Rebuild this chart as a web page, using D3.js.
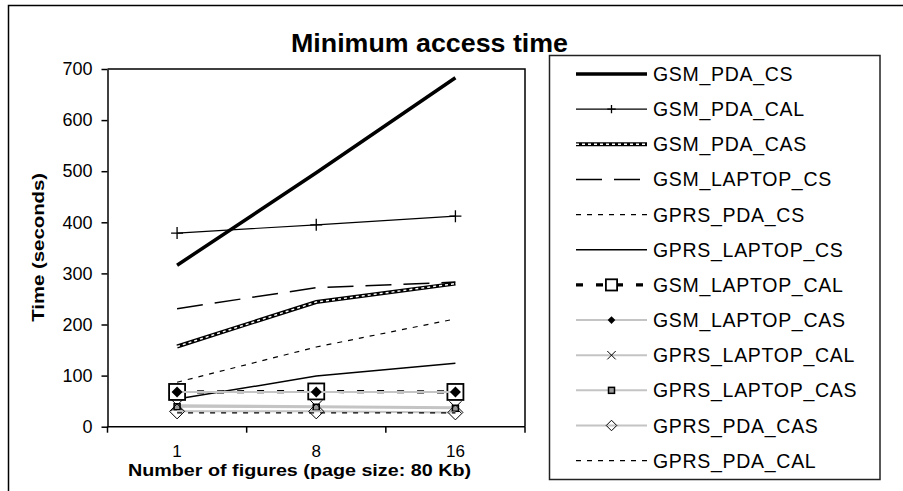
<!DOCTYPE html>
<html>
<head>
<meta charset="utf-8">
<script src="https://cdn.jsdelivr.net/npm/d3@7/dist/d3.min.js"></script>
<style>
  html, body { margin: 0; padding: 0; background: #fff; }
  svg { display: block; font-family: "Liberation Sans", Arial, sans-serif; }
</style>
</head>
<body>
<svg id="chart" width="903" height="491"></svg>
<script>
// Number of figures per page (x categories)
const categories = ["1", "8", "16"];
const yTicks = [0, 100, 200, 300, 400, 500, 600, 700];

// Minimum access time in seconds, one array per configuration
const gsmPdaCs       = [316, 497, 683];
const gsmPdaCal      = [379, 395, 412];
const gsmPdaCas      = [157, 244, 280];
const gsmLaptopCs    = [231, 272, 283];
const gprsPdaCs      = [87, 156, 211];
const gprsLaptopCs   = [54, 99, 124];
const gsmLaptopCal   = [68, 69, 68];
const gsmLaptopCas   = [68, 68, 68];
const gprsLaptopCal  = [42, 40, 38];
const gprsLaptopCas  = [39, 38, 36];
const gprsPdaCas     = [30, 30, 28];
const gprsPdaCal     = [27, 27, 27];

const series = [
  { name: "GSM_PDA_CS",      values: gsmPdaCs },
  { name: "GSM_PDA_CAL",     values: gsmPdaCal },
  { name: "GSM_PDA_CAS",     values: gsmPdaCas },
  { name: "GSM_LAPTOP_CS",   values: gsmLaptopCs },
  { name: "GPRS_PDA_CS",     values: gprsPdaCs },
  { name: "GPRS_LAPTOP_CS",  values: gprsLaptopCs },
  { name: "GSM_LAPTOP_CAL",  values: gsmLaptopCal },
  { name: "GSM_LAPTOP_CAS",  values: gsmLaptopCas },
  { name: "GPRS_LAPTOP_CAL", values: gprsLaptopCal },
  { name: "GPRS_LAPTOP_CAS", values: gprsLaptopCas },
  { name: "GPRS_PDA_CAS",    values: gprsPdaCas },
  { name: "GPRS_PDA_CAL",    values: gprsPdaCal }
];

// Line and marker styles for each series
const styles = {
  GSM_PDA_CS:      { stroke: "#000", width: 3.5 },
  GSM_PDA_CAL:     { stroke: "#000", width: 1.2, marker: "plus" },
  GSM_PDA_CAS:     { stroke: "#000", width: 4, chain: true },
  GSM_LAPTOP_CS:   { stroke: "#000", width: 1.5, dash: "26,12" },
  GPRS_PDA_CS:     { stroke: "#000", width: 1.2, dash: "5,6" },
  GPRS_LAPTOP_CS:  { stroke: "#000", width: 1.5 },
  GSM_LAPTOP_CAL:  { stroke: "#000", width: 3.2, dash: "7,13", marker: "square" },
  GSM_LAPTOP_CAS:  { stroke: "#c4c4c4", width: 2, marker: "diamondFilled" },
  GPRS_LAPTOP_CAL: { stroke: "#c4c4c4", width: 2, marker: "cross" },
  GPRS_LAPTOP_CAS: { stroke: "#c4c4c4", width: 2, marker: "smallSquare" },
  GPRS_PDA_CAS:    { stroke: "#c4c4c4", width: 2, marker: "diamondOpen" },
  GPRS_PDA_CAL:    { stroke: "#000", width: 1.2, dash: "5,6" }
};

const svg = d3.select("#chart");

// Outer frame
svg.append("path")
  .attr("d", "M8.5,1000 V5.5 H1000")
  .attr("fill", "none").attr("stroke", "#000").attr("stroke-width", 1.5);

const plot = { left: 107.5, right: 525, top: 69, bottom: 426.7 };

const x = d3.scaleBand().domain(categories).range([plot.left, plot.right]).padding(0);
const y = d3.scaleLinear().domain([0, 700]).range([plot.bottom, plot.top]);
const cx = c => x(c) + x.bandwidth() / 2;

// Title
svg.append("text")
  .attr("x", 291).attr("y", 51.5)
  .attr("font-size", 26).attr("font-weight", "bold")
  .attr("textLength", 277).attr("lengthAdjust", "spacingAndGlyphs")
  .text("Minimum access time");

// Plot frame (top and right edges)
svg.append("path")
  .attr("d", `M${plot.left},${plot.top} H${plot.right} V${plot.bottom}`)
  .attr("fill", "none").attr("stroke", "#000").attr("stroke-width", 1.5);

// Y axis
const yAxis = svg.append("g")
  .attr("transform", `translate(${plot.left},0)`)
  .call(d3.axisLeft(y).tickValues(yTicks).tickSize(6).tickSizeOuter(0).tickPadding(9));
yAxis.selectAll("text").attr("font-size", 18).attr("font-family", "Liberation Sans, Arial, sans-serif").attr("fill", "#000");
yAxis.selectAll("line, path").attr("stroke", "#000").attr("stroke-width", 1.5);

// X axis: baseline, tick marks on category boundaries, labels at category centres
svg.append("line")
  .attr("x1", plot.left).attr("x2", plot.right)
  .attr("y1", plot.bottom).attr("y2", plot.bottom)
  .attr("stroke", "#000").attr("stroke-width", 1.5);
const edges = categories.map(c => x(c)).concat([x(categories[categories.length - 1]) + x.bandwidth()]);
svg.selectAll(".xtick").data(edges).enter().append("line")
  .attr("class", "xtick")
  .attr("x1", d => d).attr("x2", d => d)
  .attr("y1", plot.bottom).attr("y2", plot.bottom + 6)
  .attr("stroke", "#000").attr("stroke-width", 1.5);
svg.selectAll(".xlabel").data(categories).enter().append("text")
  .attr("class", "xlabel")
  .attr("x", d => cx(d)).attr("y", 457)
  .attr("text-anchor", "middle").attr("font-size", 17)
  .text(d => d);

// Axis titles
svg.append("text")
  .attr("x", 128).attr("y", 476)
  .attr("font-size", 16.5).attr("font-weight", "bold")
  .attr("textLength", 343).attr("lengthAdjust", "spacingAndGlyphs")
  .text("Number of figures (page size: 80 Kb)");
svg.append("text")
  .attr("transform", `translate(44,${(plot.top + plot.bottom) / 2 + 74}) rotate(-90)`)
  .attr("font-size", 17).attr("font-weight", "bold")
  .attr("textLength", 149).attr("lengthAdjust", "spacingAndGlyphs")
  .text("Time (seconds)");

// Marker shapes
function drawMarker(g, type, px, py, s) {
  if (type === "plus") {
    g.append("path").attr("d", `M${px - 6 * s},${py} H${px + 6 * s} M${px},${py - 6 * s} V${py + 6 * s}`)
      .attr("stroke", "#000").attr("stroke-width", 1.3).attr("fill", "none");
  } else if (type === "square") {
    const h = 8 * s;
    g.append("rect").attr("x", px - h).attr("y", py - h).attr("width", 2 * h).attr("height", 2 * h)
      .attr("fill", "#fff").attr("stroke", "#000").attr("stroke-width", 1.8);
  } else if (type === "diamondFilled") {
    const h = 5.5 * s;
    g.append("path").attr("d", `M${px},${py - h} L${px + h},${py} L${px},${py + h} L${px - h},${py} Z`)
      .attr("fill", "#000");
  } else if (type === "cross") {
    const h = 6 * s;
    g.append("path").attr("d", `M${px - h},${py - h} L${px + h},${py + h} M${px - h},${py + h} L${px + h},${py - h}`)
      .attr("stroke", "#000").attr("stroke-width", 1).attr("fill", "none");
  } else if (type === "smallSquare") {
    const h = 3;
    g.append("rect").attr("x", px - h).attr("y", py - h).attr("width", 2 * h).attr("height", 2 * h)
      .attr("fill", "#999").attr("stroke", "#000").attr("stroke-width", 1.5);
  } else if (type === "diamondOpen") {
    const h = 7.5 * s;
    g.append("path").attr("d", `M${px},${py - h} L${px + h},${py} L${px},${py + h} L${px - h},${py} Z`)
      .attr("fill", "none").attr("stroke", "#000").attr("stroke-width", 1);
  }
}

// Stroke a path with a series style (chain pattern drawn as black band with white links)
function strokePath(g, d, st) {
  const p = g.append("path").attr("d", d).attr("fill", "none")
    .attr("stroke", st.stroke).attr("stroke-width", st.width);
  if (st.dash) p.attr("stroke-dasharray", st.dash);
  if (st.chain) {
    g.append("path").attr("d", d).attr("fill", "none")
      .attr("stroke", "#fff").attr("stroke-width", 1.4).attr("stroke-dasharray", "3,3");
  }
}

const line = d3.line().x(d => cx(d.c)).y(d => y(d.v));

// Series lines and markers
const lines = svg.append("g");
series.forEach(s => {
  const st = styles[s.name];
  const pts = categories.map((c, i) => ({ c, v: s.values[i] }));
  const g = lines.append("g");
  strokePath(g, line(pts), st);
  if (st.marker) pts.forEach(p => drawMarker(g, st.marker, cx(p.c), y(p.v), 1));
});

// Legend
const legend = svg.append("g");
legend.append("rect")
  .attr("x", 549.5).attr("y", 55.5).attr("width", 330.5).attr("height", 424)
  .attr("fill", "#fff").attr("stroke", "#222").attr("stroke-width", 1.5);
series.forEach((s, i) => {
  const st = styles[s.name];
  const ly = 74 + i * 35.15;
  const g = legend.append("g");
  strokePath(g, `M576,${ly} H647`, st);
  if (st.marker) drawMarker(g, st.marker, 611.5, ly, 0.7);
  g.append("text")
    .attr("x", 653).attr("y", ly).attr("dy", "0.36em")
    .attr("font-size", 19.5).attr("letter-spacing", 0.7)
    .text(s.name);
});
</script>
</body>
</html>
